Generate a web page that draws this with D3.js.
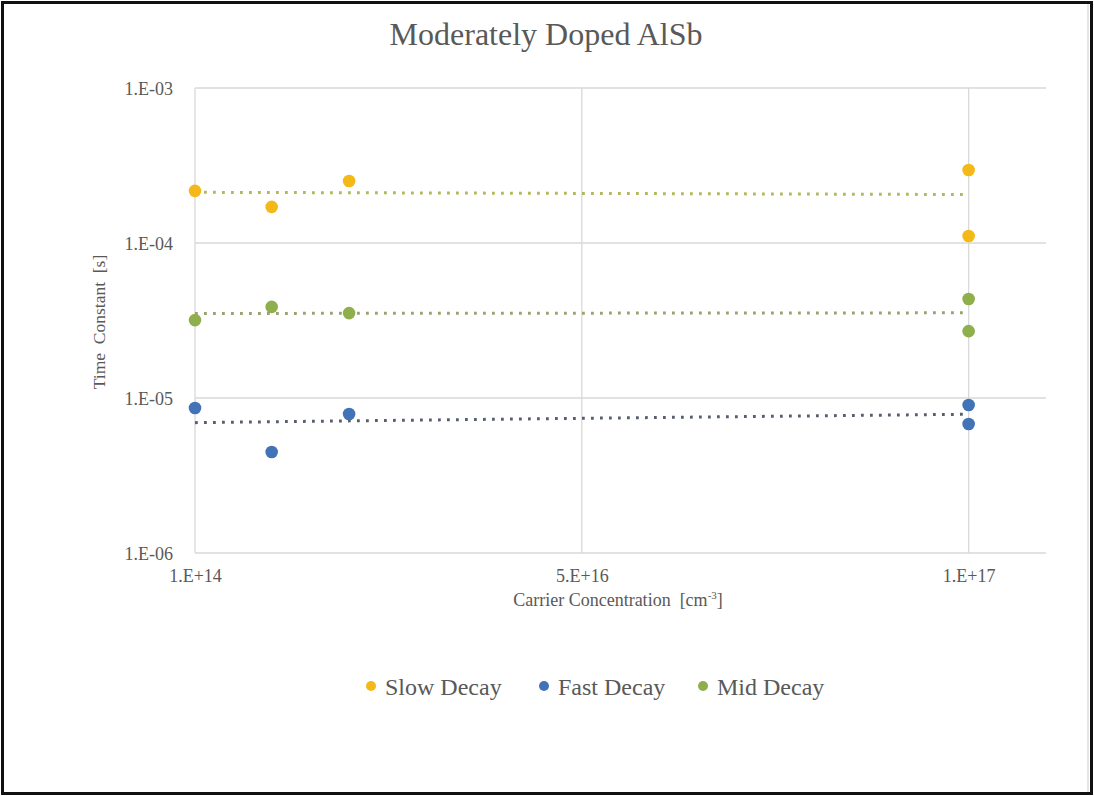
<!DOCTYPE html>
<html>
<head>
<meta charset="utf-8">
<script src="https://cdn.jsdelivr.net/npm/d3@7"></script>
<style>
  html, body { margin: 0; padding: 0; background: #fff; }
  svg { display: block; }
</style>
</head>
<body>
<svg id="chart" width="1094" height="796"></svg>
<script>
// Carrier concentration (cm^-3) and measured time constants (s)
const carrierConc = [1e14, 1e16, 2e16, 1e17, 1e17];
const slowDecay  = [2.17e-4, 1.71e-4, 2.51e-4, 2.96e-4, 1.11e-4];
const fastDecay  = [8.62e-6, 4.48e-6, 7.88e-6, 9.02e-6, 6.79e-6];
const midDecay   = [3.18e-5, 3.87e-5, 3.53e-5, 4.35e-5, 2.70e-5];

const seriesNames = ["Slow Decay", "Fast Decay", "Mid Decay"];
const xTickValues = [1e14, 5.005e16, 1e17];
const xTickLabels = ["1.E+14", "5.E+16", "1.E+17"];
const yTickValues = [1e-6, 1e-5, 1e-4, 1e-3];
const yTickLabels = ["1.E-06", "1.E-05", "1.E-04", "1.E-03"];

const series = [
  { name: seriesNames[0], values: slowDecay, color: "#f4b918", trend: "#b3b85a" },
  { name: seriesNames[1], values: fastDecay, color: "#4273b6", trend: "#565e70" },
  { name: seriesNames[2], values: midDecay,  color: "#8fae4c", trend: "#97a470" }
];

const svg = d3.select("#chart");
const W = 1094, H = 796;
const plot = { left: 195, right: 1046, top: 88, bottom: 553 };
const serif = '"Liberation Serif", "Times New Roman", serif';
const textColor = "#595959";

// outer frame
svg.append("rect").attr("x", 2.5).attr("y", 2.5).attr("width", W - 5).attr("height", H - 5)
  .attr("fill", "#fff").attr("stroke", "#111").attr("stroke-width", 3);
svg.append("line").attr("x1", 1088).attr("x2", 1088).attr("y1", 4).attr("y2", H - 4)
  .attr("stroke", "#e6e6e6").attr("stroke-width", 2);

const x = d3.scaleLinear().domain([1e14, 1.0999e17]).range([plot.left, plot.right]);
const y = d3.scaleLog().domain([1e-6, 1e-3]).range([plot.bottom, plot.top]);

// gridlines
const grid = svg.append("g").attr("stroke", "#d9d9d9").attr("stroke-width", 1.3);
yTickValues.forEach(v => {
  grid.append("line").attr("x1", plot.left).attr("x2", plot.right)
    .attr("y1", y(v)).attr("y2", y(v));
});
xTickValues.forEach(v => {
  grid.append("line").attr("x1", x(v)).attr("x2", x(v))
    .attr("y1", plot.top).attr("y2", plot.bottom);
});

// axes (labels only, no domain lines)
const yAxis = d3.axisLeft(y).tickValues(yTickValues).tickSize(0).tickPadding(0)
  .tickFormat((d, i) => yTickLabels[i]);
const yG = svg.append("g").attr("transform", `translate(${plot.left - 22},1)`).call(yAxis);
yG.select(".domain").remove();
yG.selectAll("text").style("font-family", serif).attr("font-size", 18).attr("fill", textColor);

const xAxis = d3.axisBottom(x).tickValues(xTickValues).tickSize(0).tickPadding(0)
  .tickFormat((d, i) => xTickLabels[i]);
const xG = svg.append("g").attr("transform", `translate(0,${plot.bottom + 16})`).call(xAxis);
xG.select(".domain").remove();
xG.selectAll("text").style("font-family", serif).attr("font-size", 18).attr("fill", textColor);

// linear trendlines (least squares in data space)
function linearFit(xs, ys) {
  const n = xs.length;
  const mx = d3.mean(xs), my = d3.mean(ys);
  let sxy = 0, sxx = 0;
  for (let i = 0; i < n; i++) { sxy += (xs[i] - mx) * (ys[i] - my); sxx += (xs[i] - mx) ** 2; }
  const b = sxy / sxx;
  return xv => my + b * (xv - mx);
}
const xMin = d3.min(carrierConc), xMax = d3.max(carrierConc);
const samples = d3.range(0, 101).map(i => xMin + (xMax - xMin) * i / 100);
const line = d3.line().x(d => x(d[0])).y(d => y(d[1]));

series.forEach(s => {
  const f = linearFit(carrierConc, s.values);
  svg.append("path")
    .attr("d", line(samples.map(v => [v, f(v)])))
    .attr("fill", "none").attr("stroke", s.trend).attr("stroke-width", 3)
    .attr("stroke-dasharray", "2.8 6.2");
});

// data points
series.forEach(s => {
  svg.append("g").selectAll("circle")
    .data(s.values.map((v, i) => [carrierConc[i], v]))
    .join("circle")
    .attr("cx", d => x(d[0])).attr("cy", d => y(d[1]))
    .attr("r", 6.3).attr("fill", s.color);
});

// title
svg.append("text").attr("x", 546).attr("y", 45).attr("text-anchor", "middle")
  .style("font-family", serif).attr("font-size", 32).attr("fill", textColor)
  .text("Moderately Doped AlSb");

// axis titles
svg.append("text")
  .attr("transform", `translate(105,322) rotate(-90)`)
  .attr("text-anchor", "middle").style("font-family", serif).attr("font-size", 17.5)
  .attr("fill", textColor).style("white-space", "pre").text("Time  Constant  [s]");

const xt = svg.append("text").attr("x", 618).attr("y", 606).attr("text-anchor", "middle")
  .style("font-family", serif).attr("font-size", 18).attr("fill", textColor)
  .style("white-space", "pre");
xt.append("tspan").text("Carrier Concentration  [cm");
xt.append("tspan").attr("font-size", 11).attr("dy", -7).text("-3");
xt.append("tspan").attr("dy", 7).text("]");

// legend
const legendX = [371, 544, 703];
series.forEach((s, i) => {
  const g = svg.append("g").attr("transform", `translate(${legendX[i]},686)`);
  g.append("circle").attr("r", 5).attr("fill", s.color);
  g.append("text").attr("x", 14).attr("y", 9).style("font-family", serif)
    .attr("font-size", 24).attr("fill", textColor).text(s.name);
});
</script>
</body>
</html>
